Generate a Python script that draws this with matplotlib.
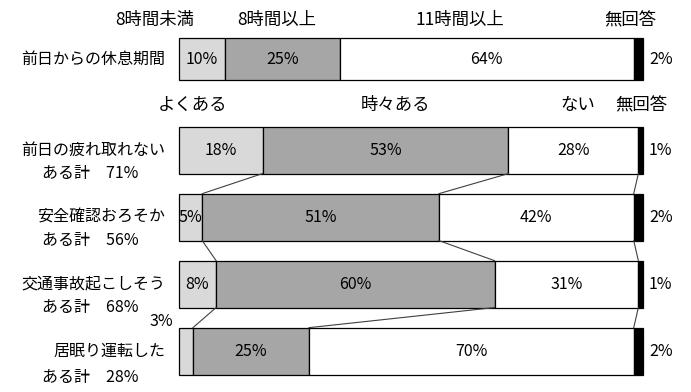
import matplotlib.pyplot as plt
import numpy as np

plt.rcParams["font.family"] = ["Noto Sans CJK JP", "DejaVu Sans"]

# rows (top to bottom)
row_labels = ["前日からの休息期間", "前日の疲れ取れない", "安全確認おろそか", "交通事故起こしそう", "居眠り運転した"]
sum_labels = ["", "ある計　71%", "ある計　56%", "ある計　68%", "ある計　28%"]
values = [
    [10, 25, 64, 2],
    [18, 53, 28, 1],
    [5, 51, 42, 2],
    [8, 60, 31, 1],
    [3, 25, 70, 2],
]
header_top = ["8時間未満", "8時間以上", "11時間以上", "無回答"]
header_freq = ["よくある", "時々ある", "ない", "無回答"]

COLORS = ["#d9d9d9", "#a6a6a6", "#ffffff", "#000000"]

# layout (row units: 1 = 67px, x units: percent)
ypos = [0.0, 1.36, 2.36, 3.36, 4.36]
heights = [0.63, 0.7, 0.7, 0.7, 0.7]
px_per_pct = 4.64
x0_px = 179

W, H = 691, 392
fig = plt.figure(figsize=(W / 100, H / 100), dpi=100)
ax = fig.add_axes([0, 0, 1, 1])
ax.set_xlim(-x0_px / px_per_pct, (W - x0_px) / px_per_pct)
ax.set_ylim((H - 59) / 67, -59 / 67)
ax.axis("off")

fs = 11.5
fs_head = 12.5
cums = []
for i, vals in enumerate(values):
    v = np.array(vals, dtype=float)
    v = v / v.sum() * 100
    left = np.concatenate([[0], np.cumsum(v)[:-1]])
    cums.append(np.cumsum(v))
    ax.barh(ypos[i], v, left=left, height=heights[i], color=COLORS,
            edgecolor="black", linewidth=0.9)
    for k in range(3):
        if i == 4 and k == 0:
            continue
        ax.text(left[k] + v[k] / 2, ypos[i], f"{vals[k]}%", ha="center",
                va="center", fontsize=fs)
    ax.text(103.8, ypos[i], f"{vals[3]}%", ha="center", va="center", fontsize=fs)
    ax.text(-3, ypos[i], row_labels[i], ha="right", va="center", fontsize=fs)
    if sum_labels[i]:
        dy = 0.39 if i == 4 else 0.35
        ax.text(-29.5, ypos[i] + dy, sum_labels[i], ha="left", va="center", fontsize=fs)

# small value for 居眠り運転した
ax.text(-1.3, ypos[4] - 0.44, f"{values[4][0]}%", ha="right", va="center", fontsize=fs)

# connector lines
for i in range(1, 4):
    for k in range(3):
        ax.plot([cums[i][k], cums[i + 1][k]],
                [ypos[i] + heights[i] / 2, ypos[i + 1] - heights[i + 1] / 2],
                color="#404040", lw=0.8)

# headers
for x, t in zip([-5.2, 21.1, 60.6, 97.2], header_top):
    ax.text(x, -0.58, t, ha="center", va="center", fontsize=fs_head)
for x, t in zip([3.0, 46.6, 86.0, 99.6], header_freq):
    ax.text(x, 0.69, t, ha="center", va="center", fontsize=fs_head)

fig.savefig("out.png", dpi=100)
